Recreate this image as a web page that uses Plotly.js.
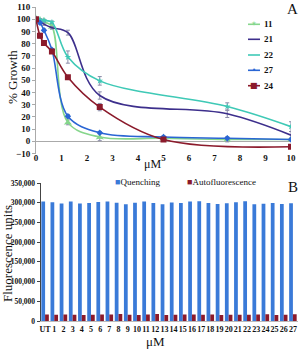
<!DOCTYPE html>
<html><head><meta charset="utf-8">
<script src="https://cdn.plot.ly/plotly-3.0.1.min.js"></script>
<style>html,body{margin:0;padding:0;background:#fff}#c{width:300px;height:349px}</style>
</head><body><div id="c"></div>
<script>
// Panel A: % growth vs concentration (µM)
const xConc = [0, 0.156, 0.3125, 0.625, 1.25, 2.5, 5, 7.5, 10];
const xConcNo5 = [0, 0.156, 0.3125, 0.625, 1.25, 2.5, 7.5, 10];
const xConcNo75 = [0, 0.156, 0.3125, 0.625, 1.25, 2.5, 5, 10];
const g11 = [100, 99, 98, 94, 15.5, 3.5, 2.5, 1.5, 1.5];
const e11 = [1, 1, 1, 2, 2, 3, 1, 2, 1];
const g21 = [100, 98, 96, 93, 89, 37.5, 22.5, 5];
const e21 = [1, 1, 1, 1, 2, 3, 3, 3];
const g22 = [100, 99.5, 99, 97.5, 69, 49.5, 28.5, 12];
const e22 = [1, 1, 1, 1, 5, 3.5, 3, 4];
const g27 = [100, 97, 91, 75, 20.5, 7, 3.5, 2.5, 1.5];
const e27 = [1, 1, 1, 1, 1.5, 1, 1, 1, 1];
const g24 = [100, 86.5, 80.5, 73.5, 52.5, 28, 1.4, -4.5];
const e24 = [1, 2, 1.5, 1, 1, 3, 1, 1];
const seriesNames = ['11', '21', '22', '27', '24'];

// Panel B: fluorescence units
const cats = ["UT","1","2","3","4","5","6","7","8","9","10","11","12","13","14","15","16","17","18","19","20","21","22","23","24","25","26","27"];
const quenching = [303000,301000,298000,303000,298000,299500,301500,303000,300000,296000,300000,303000,299000,296000,300500,299000,303000,304000,299000,296500,298500,301000,304000,296000,297500,299000,296500,298500];
const autofluor = [16500,16000,16500,16000,15500,16000,16500,16500,18000,16000,15500,16500,18000,15500,16000,16500,16500,16000,16500,15000,16000,16000,16000,16500,17000,15500,16000,17000];

const serif = "Liberation Serif, Times New Roman, serif";
const colors = ['#86d68c', '#3d2f8c', '#3fc9b6', '#2a66d4', '#8b1a2b'];
function line(name, x, y, e, color, sym, msize) {
  return {type:'scatter', mode:'lines+markers', name:name, x:x, y:y,
    line:{color:color, width:1.6, shape:'spline', smoothing:1},
    marker:{color:color, symbol:sym, size:msize},
    error_y:{type:'data', array:e, visible:true, color:'#8a8aa8', thickness:1, width:2},
    xaxis:'x', yaxis:'y', showlegend:false};
}
const traces = [
  line(seriesNames[0], xConc, g11, e11, colors[0], 'star-triangle-up', 6),
  line(seriesNames[1], xConcNo5, g21, e21, colors[1], 'x-thin', 4),
  line(seriesNames[2], xConcNo5, g22, e22, colors[2], 'star', 5),
  line(seriesNames[3], xConc, g27, e27, colors[3], 'diamond', 5),
  line(seriesNames[4], xConcNo75, g24, e24, colors[4], 'square', 6),
  {type:'bar', name:'Quenching', x:cats, y:quenching, marker:{color:'#3a7ad8'}, xaxis:'x2', yaxis:'y2', showlegend:false},
  {type:'bar', name:'Autofluorescence', x:cats, y:autofluor, marker:{color:'#8b1a2b'}, xaxis:'x2', yaxis:'y2', showlegend:false}
];
const W = 300, H = 349;
const px = v => v / W, py = v => 1 - v / H;
const mkTick = () => ({family:serif, size:9, color:'#111', weight:'bold'});

const annotations = [
  {text:'A', x:px(292), y:py(9), font:{family:serif, size:15, color:'#111'}},
  {text:'B', x:px(293), y:py(187), font:{family:serif, size:15, color:'#111'}},
  {text:'% Growth', x:px(12), y:py(77), textangle:-90, font:{family:serif, size:13, color:'#111'}},
  {text:'μM', x:px(152), y:py(164), font:{family:serif, size:12, color:'#111'}},
  {text:'Fluorescence units', x:px(7), y:py(254), textangle:-90, font:{family:serif, size:13, color:'#111'}},
  {text:'μM', x:px(155), y:py(341), font:{family:serif, size:13, color:'#111'}}
];
const shapes = [];
const legY = [24.3, 39.3, 55, 70.3, 85.7];
const legMark = ['✶', '', '', '•', '■'];
seriesNames.forEach((n, i) => {
  shapes.push({type:'line', xref:'paper', yref:'paper', x0:px(248), x1:px(260), y0:py(legY[i]), y1:py(legY[i]), line:{color:colors[i], width:1.6}});
  if (legMark[i]) annotations.push({text:legMark[i], x:px(254), y:py(legY[i]), font:{family:'DejaVu Sans', size: i===4?8:7, color:colors[i]}});
  annotations.push({text:n, x:px(262), y:py(legY[i]), xanchor:'left', font:{family:serif, size:9, color:'#111', weight:'bold'}});
});
// bar legend
annotations.push(
  {text:"<span style='color:#3a7ad8'>■</span>Quenching", x:px(113), y:py(182.5), xanchor:'left', font:{family:serif, size:9, color:'#111'}},
  {text:"<span style='color:#8b1a2b'>■</span>Autofluorescence", x:px(185), y:py(182.5), xanchor:'left', font:{family:serif, size:9, color:'#111'}}
);
annotations.forEach(a => { a.xref = 'paper'; a.yref = 'paper'; a.showarrow = false; if (!a.xanchor) a.xanchor = 'center'; a.yanchor = 'middle'; });

const layout = {
  width:W, height:H, margin:{l:0,r:0,t:0,b:0},
  barmode:'group', bargap:0.18,
  showlegend:false,
  xaxis:{domain:[px(36),px(291)], range:[0,10], dtick:1, showgrid:false, zeroline:false, showline:false, ticks:'', tickfont:mkTick(), anchor:'y', ticklabelstandoff:-3},
  yaxis:{domain:[py(153.5),py(7)], range:[-10,110], dtick:10, showgrid:false, showline:true, linecolor:'#aaa', ticks:'outside', ticklen:3, tickcolor:'#aaa',
    zeroline:true, zerolinecolor:'#aaa', zerolinewidth:1, tickfont:mkTick(), anchor:'x'},
  xaxis2:{type:'category', domain:[px(40.5),px(297.5)], anchor:'y2', showgrid:false, showline:true, linecolor:'#bbb', ticks:'', tickfont:{family:serif, size:8, color:'#111', weight:'bold'}, tickangle:0, dtick:1},
  yaxis2:{domain:[py(321),py(183)], anchor:'x2', range:[0,350000], dtick:50000, exponentformat:'none', separatethousands:false, showgrid:false, showline:true, ticks:'outside', ticklen:3,
    tickfont:{family:serif, size:7.5, color:'#111', weight:'bold'}},
  annotations:annotations,
  shapes:shapes
};
Plotly.newPlot('c', traces, layout, {staticPlot:true, displayModeBar:false});
</script></body></html>
